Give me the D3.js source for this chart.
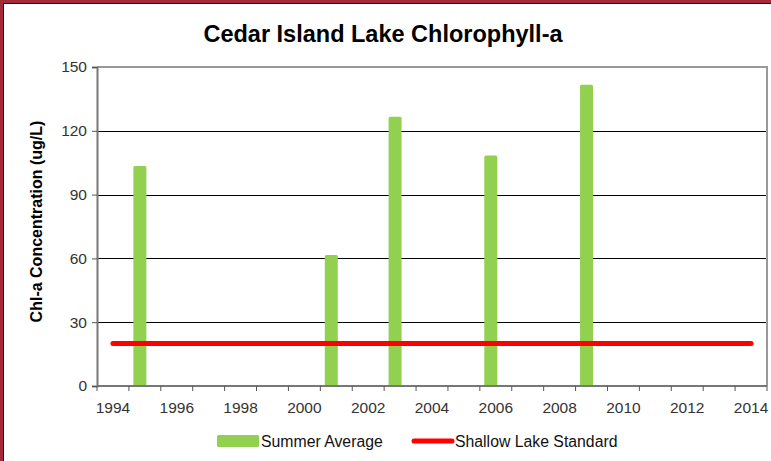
<!DOCTYPE html>
<html><head><meta charset="utf-8">
<script src="https://cdn.jsdelivr.net/npm/d3@7"></script>
<style>body{margin:0;background:#fff;}svg{display:block;font-family:"Liberation Sans",Arial,sans-serif;}</style>
</head><body>
<script>
const years = [1995, 2001, 2003, 2006, 2009];
const summerAverage = [103.4, 61.6, 126.6, 108.4, 141.7];
const standardYears = [1994, 2014];
const standardValue = [20, 20];
const yTicks = [0, 30, 60, 90, 120, 150];
const xLabels = [1994, 1996, 1998, 2000, 2002, 2004, 2006, 2008, 2010, 2012, 2014];
const categories = d3.range(1994, 2015);

const W = 771, H = 461;
const svg = d3.select("body").append("svg").attr("width", W).attr("height", H);
svg.append("rect").attr("width", W).attr("height", H).attr("fill", "#fff");

const L = 97, R = 767, T = 67, B = 386;
const x = d3.scaleBand().domain(categories).range([L, R]).padding(0);
const y = d3.scaleLinear().domain([0, 150]).range([B, T]);

// frame
svg.append("rect").attr("x", 0).attr("y", 0).attr("width", 3).attr("height", H).attr("fill", "#A3293B");
svg.append("rect").attr("x", 0).attr("y", 0).attr("width", W).attr("height", 3).attr("fill", "#A3293B");
svg.append("line").attr("x1", 3.5).attr("x2", 3.5).attr("y1", 3).attr("y2", H).attr("stroke", "#111").attr("stroke-width", 1);
svg.append("line").attr("x1", 3).attr("x2", W).attr("y1", 3.5).attr("y2", 3.5).attr("stroke", "#111").attr("stroke-width", 1);

// gridlines
svg.append("g").selectAll("line").data(yTicks.filter(d => d > 0 && d < 150)).join("line")
  .attr("x1", L).attr("x2", R).attr("y1", d => Math.round(y(d)) + 0.5).attr("y2", d => Math.round(y(d)) + 0.5)
  .attr("stroke", "#000").attr("stroke-width", 1);
// plot border top/right
svg.append("path").attr("d", `M${L},${T}H${R}V${B}`).attr("fill", "none").attr("stroke", "#999").attr("stroke-width", 2);

// bars
const barW = 13, barOff = -5;
svg.append("g").selectAll("rect").data(years).join("rect")
  .attr("x", (d) => x(d) + x.bandwidth() / 2 + barOff - barW / 2)
  .attr("y", (d, i) => y(summerAverage[i]))
  .attr("width", barW)
  .attr("height", (d, i) => y(0) - y(summerAverage[i]))
  .attr("rx", 1.5)
  .attr("fill", "#92D050");

// standard line
const line = d3.line().x(d => x(d[0]) + x.bandwidth() / 2).y(d => y(d[1]));
svg.append("path").datum(standardYears.map((d, i) => [d, standardValue[i]]))
  .attr("d", line).attr("fill", "none").attr("stroke", "#FF0000").attr("stroke-width", 5).attr("stroke-linecap", "round");

// y axis
const yAxis = d3.axisLeft(y).tickValues(yTicks).tickSize(5).tickPadding(5);
const gy = svg.append("g").attr("transform", `translate(${L},0)`).call(yAxis);
gy.select(".domain").attr("stroke", "#777").attr("stroke-width", 2);
gy.selectAll(".tick line").attr("stroke", "#555");
gy.selectAll("text").attr("font-size", 15.5).attr("fill", "#333").attr("font-family", "Liberation Sans, Arial, sans-serif");

// x axis
const gx = svg.append("g").attr("transform", `translate(0,${B})`);
gx.append("line").attr("x1", L).attr("x2", R).attr("y1", 0).attr("y2", 0).attr("stroke", "#777").attr("stroke-width", 2);
gx.selectAll("line.tk").data(categories.concat([2015])).join("line").attr("class", "tk")
  .attr("x1", d => d === 2015 ? R : x(d)).attr("x2", d => d === 2015 ? R : x(d))
  .attr("y1", 0).attr("y2", 5).attr("stroke", "#555");
gx.selectAll("text").data(xLabels).join("text")
  .attr("x", d => x(d) + x.bandwidth() / 2).attr("y", 27)
  .attr("text-anchor", "middle").attr("font-size", 15.5).attr("fill", "#333").text(d => d);

// title
svg.append("text").attr("x", 383).attr("y", 42).attr("text-anchor", "middle")
  .attr("font-size", 23.5).attr("font-weight", "bold").attr("fill", "#000").text("Cedar Island Lake Chlorophyll-a");

// y label
svg.append("text").attr("transform", `translate(42,${(T + B) / 2 - 5}) rotate(-90)`)
  .attr("text-anchor", "middle").attr("font-size", 16).attr("font-weight", "bold").attr("fill", "#000")
  .text("Chl-a Concentration (ug/L)");

// legend
const lg = svg.append("g");
lg.append("rect").attr("x", 217).attr("y", 435).attr("width", 42).attr("height", 12).attr("rx", 1.5).attr("fill", "#92D050");
lg.append("text").attr("x", 261).attr("y", 446.5).attr("font-size", 15.8).attr("fill", "#111").text("Summer Average");
lg.append("line").attr("x1", 414).attr("x2", 452).attr("y1", 441).attr("y2", 441).attr("stroke", "#FF0000").attr("stroke-width", 5).attr("stroke-linecap", "round");
lg.append("text").attr("x", 455).attr("y", 446.5).attr("font-size", 15.8).attr("fill", "#111").text("Shallow Lake Standard");
</script>
</body></html>
